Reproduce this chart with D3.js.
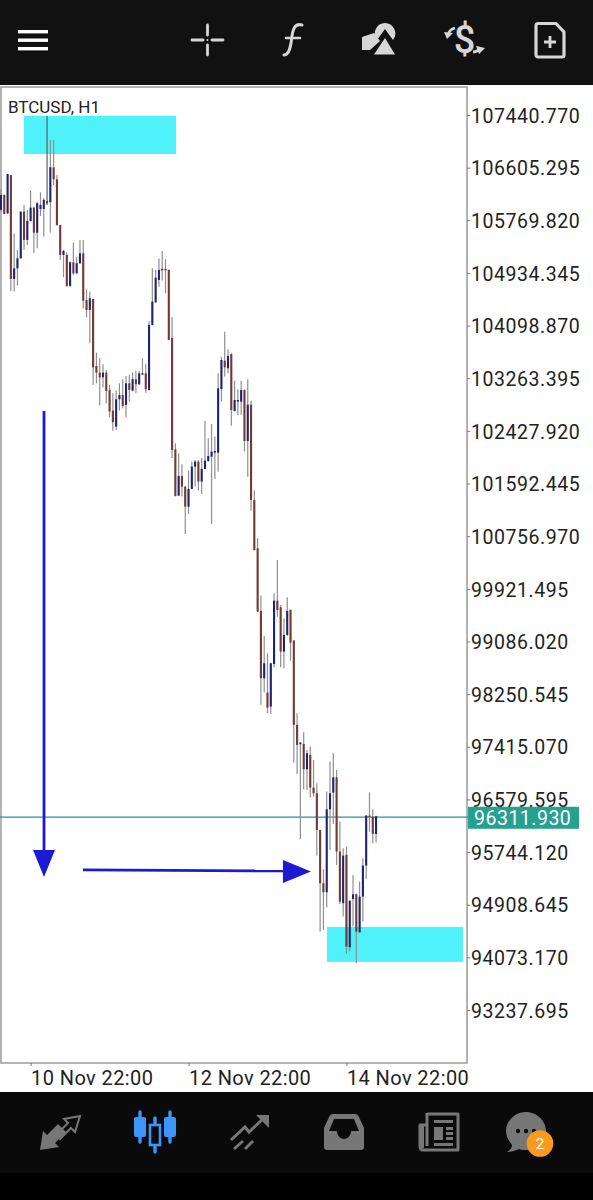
<!DOCTYPE html>
<html><head><meta charset="utf-8">
<script src="https://cdn.jsdelivr.net/npm/d3@7/dist/d3.min.js"></script>
<style>html,body{margin:0;padding:0;background:#fff}svg{display:block}text{font-family:Roboto,sans-serif}</style>
</head><body><svg id="c" width="593" height="1200"></svg>
<script>
const symbol = "BTCUSD, H1";
const opens = [105934,106172,105881,106489,104839,105008,105167,105908,105458,105759,
105971,105574,105950,105950,106077,106056,106611,106421,105696,105220,
105220,104728,105104,104929,105088,105246,104506,104347,104522,103458,
103353,103279,103353,103078,102750,102496,102930,102998,102840,103183,
103067,103247,103168,103332,103342,103077,104109,104469,104823,104982,
104998,104982,103902,102136,101401,101713,101544,101226,101507,101861,
101941,101623,101823,101950,102020,102083,102083,103093,103542,103421,
103648,102744,102892,102892,103077,102268,102844,101332,100565,99570,
98502,98275,98052,98729,99734,99629,98925,99190,99586,99100,
97761,97455,97460,97058,97285,96767,96677,96095,95249,95106,
96423,96687,96931,95752,94932,95699,94234,95000,95075,94472,
95037,95529,96323,96307,96032];
const highs = [106267,106180,106505,106489,105564,105299,105908,106013,105934,106241,
105987,106066,106214,106119,107425,107045,107045,106489,105696,105299,
105257,105114,105416,105193,105458,105458,104675,104638,104522,103670,
103580,103485,103395,103157,103025,103067,103183,103247,103300,103316,
103353,103384,103384,103580,103490,104172,105008,104982,105167,105283,
105151,104990,104236,102231,102073,101898,101550,101798,101941,101967,
101967,101993,102590,102310,102538,102337,103341,103606,104003,103722,
103659,103225,103088,103225,103085,103246,102908,101480,100723,99814,
99174,98899,98745,99851,100380,99666,99454,99787,99595,99110,
97946,97490,97645,97365,97418,97206,96836,96100,95471,96704,
97180,97312,97047,96228,95804,95831,94985,95381,95085,95275,
95646,96333,96693,96423,96320];
const lows = [105908,105871,105871,104649,104638,104733,105156,105299,105379,105749,
105246,105326,105839,105511,106013,105574,106331,105685,105141,104866,
104717,104717,104903,104918,105077,104374,104231,103818,103157,103183,
102829,103120,102866,102644,102432,102443,102750,102787,102639,102893,
103051,103025,103157,103316,103035,103067,104100,104460,104717,104813,
104612,103865,101998,101385,101395,101385,100793,101110,101502,101544,
101480,101427,101818,101940,100951,101665,101781,102892,103289,103341,
102511,102733,102680,102680,102099,101702,101162,100528,99555,98079,
98275,97947,97936,98677,99480,98677,98661,99174,98782,97164,
96984,95947,96741,96730,96608,96624,95688,94482,94509,94868,
95778,96191,95540,94921,94720,94128,94165,94561,93980,94456,
94641,95313,96069,95884,95894];
const closes = [106172,105871,106505,104839,105008,105167,105908,105458,105759,105971,
105574,106040,106013,106093,106040,106611,106421,105696,105220,105283,
104728,105104,104929,105088,105246,104495,104347,104532,103437,103353,
103279,103353,103062,102734,102565,102930,102998,102824,103183,103078,
103247,103168,103342,103342,103088,104109,104480,104860,104982,104998,
104982,103871,102125,101396,101713,101544,101226,101507,101861,101941,
101623,101823,101956,102030,102099,102109,103103,103553,103437,103616,
102760,102918,102918,103077,102268,102844,101332,100538,99560,98502,
98740,98037,98740,99734,99586,98925,99190,99570,99068,97761,
97444,97481,97058,97312,96767,96677,96095,95249,95106,96423,
96677,96931,95752,94958,95688,94244,94969,95075,94482,95037,
95529,96323,96307,96032,96312];
const priceTicks = [107440.770,106605.295,105769.820,104934.345,104098.870,103263.395,102427.920,101592.445,100756.970,99921.495,99086.020,98250.545,97415.070,96579.595,95744.120,94908.645,94073.170,93237.695];
const timeTickIndex = [9,57,105];
const timeTickLabels = ["10 Nov 22:00","12 Nov 22:00","14 Nov 22:00"];
const lastPrice = 96311.930;
const zones = [{i0:7,i1:53.2,p0:107425,p1:106822},{i0:99.1,i1:140.4,p0:94556,p1:94001}];
const arrowDown = {i:13.07,p0:102744,p1:95350};
const arrowRight = {i0:24.9,i1:94.2,p:95460};
const badge = "2";

const svg = d3.select("#c");
const x = d3.scaleLinear().domain([0,141.64]).range([1,467]);
const y = d3.scaleLinear().domain([107440.77,93237.695]).range([115,1010]);
const FRAME = {l:1,r:467,t:87,b:1063};

// chart frame
svg.append("rect").attr("x",0).attr("y",0).attr("width",593).attr("height",1200).attr("fill","#fff");
svg.append("rect").attr("x",FRAME.l).attr("y",FRAME.t).attr("width",FRAME.r-FRAME.l).attr("height",FRAME.b-FRAME.t)
  .attr("fill","#fff").attr("stroke","#a0a0a0").attr("stroke-width",1.6);

// zones behind candles
svg.selectAll("rect.zone").data(zones).join("rect").attr("class","zone")
  .attr("x",d=>x(d.i0)).attr("width",d=>x(d.i1)-x(d.i0))
  .attr("y",d=>y(d.p0)).attr("height",d=>y(d.p1)-y(d.p0)).attr("fill","#4ff2fb");

// price line
svg.append("line").attr("x1",0).attr("x2",468).attr("y1",y(lastPrice)+0.8).attr("y2",y(lastPrice)+0.8)
  .attr("stroke","#1f9c8c").attr("stroke-width",1.2);

// candles
const candles = opens.map((o,i)=>({i,o,h:highs[i],l:lows[i],c:closes[i]}));
const g = svg.append("g");
g.selectAll("line.wick").data(candles).join("line").attr("class","wick")
  .attr("x1",d=>x(d.i)).attr("x2",d=>x(d.i)).attr("y1",d=>y(d.h)).attr("y2",d=>y(d.l))
  .attr("stroke",d=>d.i===14?"#5e5e5e":"#8f8f8f").attr("stroke-width",1.2);
g.selectAll("rect.body").data(candles).join("rect").attr("class","body")
  .attr("x",d=>x(d.i)-1.05).attr("width",2.1)
  .attr("y",d=>y(Math.max(d.o,d.c))).attr("height",d=>Math.max(1.4,Math.abs(y(d.o)-y(d.c))))
  .attr("fill",d=>d.c>=d.o?"#1d2470":"#703c32");

// axes
const axY = svg.append("g").attr("transform",`translate(${FRAME.r},0)`)
  .call(d3.axisRight(y).tickValues(priceTicks).tickSize(3).tickPadding(1).tickFormat(d3.format(".3f")));
axY.select(".domain").remove();
axY.selectAll("line").attr("stroke","#777");
axY.selectAll("text").attr("font-size",19.5).attr("fill","#222").attr("font-family","Roboto").attr("dy","0.37em").style("letter-spacing","0.55px");

const axX = svg.append("g").attr("transform",`translate(0,${FRAME.b})`)
  .call(d3.axisBottom(x).tickValues(timeTickIndex).tickSize(3).tickPadding(3).tickFormat((d,i)=>timeTickLabels[i]));
axX.select(".domain").remove();
axX.selectAll("line").attr("stroke","#777");
axX.selectAll("text").attr("font-size",20).attr("fill","#222").attr("font-family","Roboto").attr("text-anchor","start").attr("dy","0.78em").style("letter-spacing","0.4px");

svg.append("text").attr("x",8).attr("y",112.5).attr("font-size",17).attr("fill","#222").text(symbol);

// last price tag
svg.append("rect").attr("x",468).attr("y",y(lastPrice)-9.5).attr("width",111).attr("height",22).attr("fill","#26a08f");
svg.append("text").attr("x",474).attr("y",y(lastPrice)+8.5).attr("font-size",19.5).attr("fill","#fff").style("letter-spacing","0.5px")
  .text(d3.format(".3f")(lastPrice));

// hand drawn arrows
const ARROW="#1b1bd6";
svg.append("line").attr("x1",x(arrowDown.i)).attr("x2",x(arrowDown.i)).attr("y1",y(arrowDown.p0)).attr("y2",y(arrowDown.p1)-20)
  .attr("stroke",ARROW).attr("stroke-width",2.8);
svg.append("path").attr("fill",ARROW).attr("d",d3.line()([[x(arrowDown.i)-11,y(arrowDown.p1)-27],[x(arrowDown.i)+11,y(arrowDown.p1)-27],[x(arrowDown.i),y(arrowDown.p1)]]));
svg.append("line").attr("x1",x(arrowRight.i0)).attr("x2",x(arrowRight.i1)-25).attr("y1",y(arrowRight.p)).attr("y2",y(arrowRight.p)+1)
  .attr("stroke",ARROW).attr("stroke-width",2.8);
svg.append("path").attr("fill",ARROW).attr("d",d3.line()([[x(arrowRight.i1)-28,y(arrowRight.p)-10],[x(arrowRight.i1)-28,y(arrowRight.p)+13],[x(arrowRight.i1),y(arrowRight.p)+1.5]]));

// top bar
svg.append("rect").attr("width",593).attr("height",85).attr("fill","#111112");
[30,38.5,47].forEach(v=>svg.append("rect").attr("x",18).attr("y",v).attr("width",30).attr("height",3.4).attr("fill","#fff"));
const ic="#d6d6d6";
const topIcons = svg.append("g").attr("fill","none").attr("stroke",ic).attr("stroke-linecap","round");
topIcons.append("path").attr("stroke-width",2.8).attr("d","M192 40H203M212 40H223M207.5 25V35M207.5 45V55");
topIcons.append("circle").attr("cx",207.5).attr("cy",40).attr("r",1).attr("fill",ic).attr("stroke","none");
topIcons.append("path").attr("stroke-width",3).attr("d","M302 25C295 23 293 29 292 36C291 44 290 55 284 55");
topIcons.append("path").attr("stroke-width",2.6).attr("d","M286 38H300");
const sh = svg.append("g").attr("fill",ic);
sh.append("path").attr("d","M362 37L374 33L380 41L370 50H362Z");
sh.append("path").attr("fill-rule","evenodd").attr("d","M385 23A10.5 10.5 0 0 1 393 40L385 29L377 40A10.5 10.5 0 0 1 385 23Z");
sh.append("path").attr("d","M385 38L395 54.5H374Z");
svg.append("text").attr("x",464.5).attr("y",53).attr("text-anchor","middle").attr("font-size",38).attr("font-weight",500).attr("fill",ic).text("$");
const cur = svg.append("g").attr("fill","none").attr("stroke",ic).attr("stroke-width",2.8);
cur.append("path").attr("d","M455 28C451 29 449 31 448 35");
cur.append("path").attr("d","M473 52C477 52 479 50 480 47");
svg.append("path").attr("fill",ic).attr("d","M444 32L453 33L447 39ZM476 46L485 48L479 54Z");
const docIcon = svg.append("g").attr("fill","none").attr("stroke",ic);
docIcon.append("path").attr("stroke-width",3.2).attr("stroke-linejoin","round").attr("d","M538 23.5H556L564 32V55C564 56.5 563 57 562 57H538C537 57 536 56 536 55V26C536 24.5 537 23.5 538 23.5Z");
docIcon.append("path").attr("stroke-width",2.8).attr("d","M544 42H556M550 36V48");

// bottom bar
svg.append("rect").attr("y",1092).attr("width",593).attr("height",81).attr("fill","#0a0a0a");
svg.append("rect").attr("y",1173).attr("width",593).attr("height",27).attr("fill","#000");
const gr="#777777";
const b1 = svg.append("g").attr("fill",gr);
b1.append("path").attr("d","M40 1150L43 1131L47 1135L58 1124L66 1132L55 1143L59 1147Z");
b1.append("path").attr("fill","none").attr("stroke",gr).attr("stroke-width",2).attr("d","M60 1139L71 1128L75 1132L80 1116L64 1119L68 1123L57 1134Z");
// candle icon
const bl="#3d96f7";
const b2 = svg.append("g");
[[140,1112,1142,1117,1137],[170,1112,1142,1117,1137]].forEach(a=>{
  b2.append("line").attr("x1",a[0]).attr("x2",a[0]).attr("y1",a[1]).attr("y2",a[2]).attr("stroke",bl).attr("stroke-width",3.4).attr("stroke-linecap","round");
  b2.append("rect").attr("x",a[0]-6).attr("y",a[3]).attr("width",12).attr("height",a[4]-a[3]).attr("rx",2).attr("fill",bl);
});
b2.append("line").attr("x1",155).attr("x2",155).attr("y1",1118).attr("y2",1152).attr("stroke",bl).attr("stroke-width",3.4).attr("stroke-linecap","round");
b2.append("rect").attr("x",150).attr("y",1125).attr("width",10).attr("height",20).attr("fill","#0a0a0a").attr("stroke",bl).attr("stroke-width",2.6);
// signal icon
svg.append("path").attr("fill","none").attr("stroke",gr).attr("stroke-width",3).attr("d","M231 1140L245 1127L249 1132L265 1117M234 1149L243 1141M245 1149L253 1141");
svg.append("path").attr("fill",gr).attr("d","M256 1115H269V1128Z");
// inbox
svg.append("path").attr("fill",gr).attr("fill-rule","evenodd").attr("d","M333 1114H355C357 1114 358 1115 359 1117L364 1128V1147C364 1149 363 1150 361 1150H327C325 1150 324 1149 324 1147V1128L329 1117C330 1115 331 1114 333 1114ZM334 1119L329 1131H337C337 1135 340 1139 344 1139C348 1139 351 1135 351 1131H359L354 1119Z");
// news
svg.append("path").attr("fill",gr).attr("d","M419 1124H424V1148H419Z");
const nw = svg.append("g");
nw.append("path").attr("fill","none").attr("stroke",gr).attr("stroke-width",3).attr("stroke-linejoin","round").attr("d","M427 1114H458V1150H423C420 1150 420 1147 420 1146V1125H427M427 1113V1146");
nw.append("path").attr("fill",gr).attr("d","M434 1120H453V1123H434ZM434 1127H443V1140H434ZM446 1127H453V1130H446ZM446 1132H453V1135H446ZM446 1137H453V1140H446ZM434 1143H453V1146H434Z");
// chat
svg.append("path").attr("fill",gr).attr("d","M526 1112C515 1112 506 1121 506 1131C506 1137 509 1141 512 1145C512 1148 510 1150 507 1152C512 1152 517 1150 519 1149C521 1150 523 1150 526 1150C537 1150 546 1142 546 1131C546 1121 537 1112 526 1112Z");
[518,526,534].forEach(v=>svg.append("circle").attr("cx",v).attr("cy",1131).attr("r",2.2).attr("fill","#0a0a0a"));
svg.append("circle").attr("cx",540).attr("cy",1143.5).attr("r",13.3).attr("fill","#f99c1e");
svg.append("text").attr("x",540).attr("y",1149).attr("text-anchor","middle").attr("font-size",15).attr("fill","#fff").text(badge);
</script></body></html>
